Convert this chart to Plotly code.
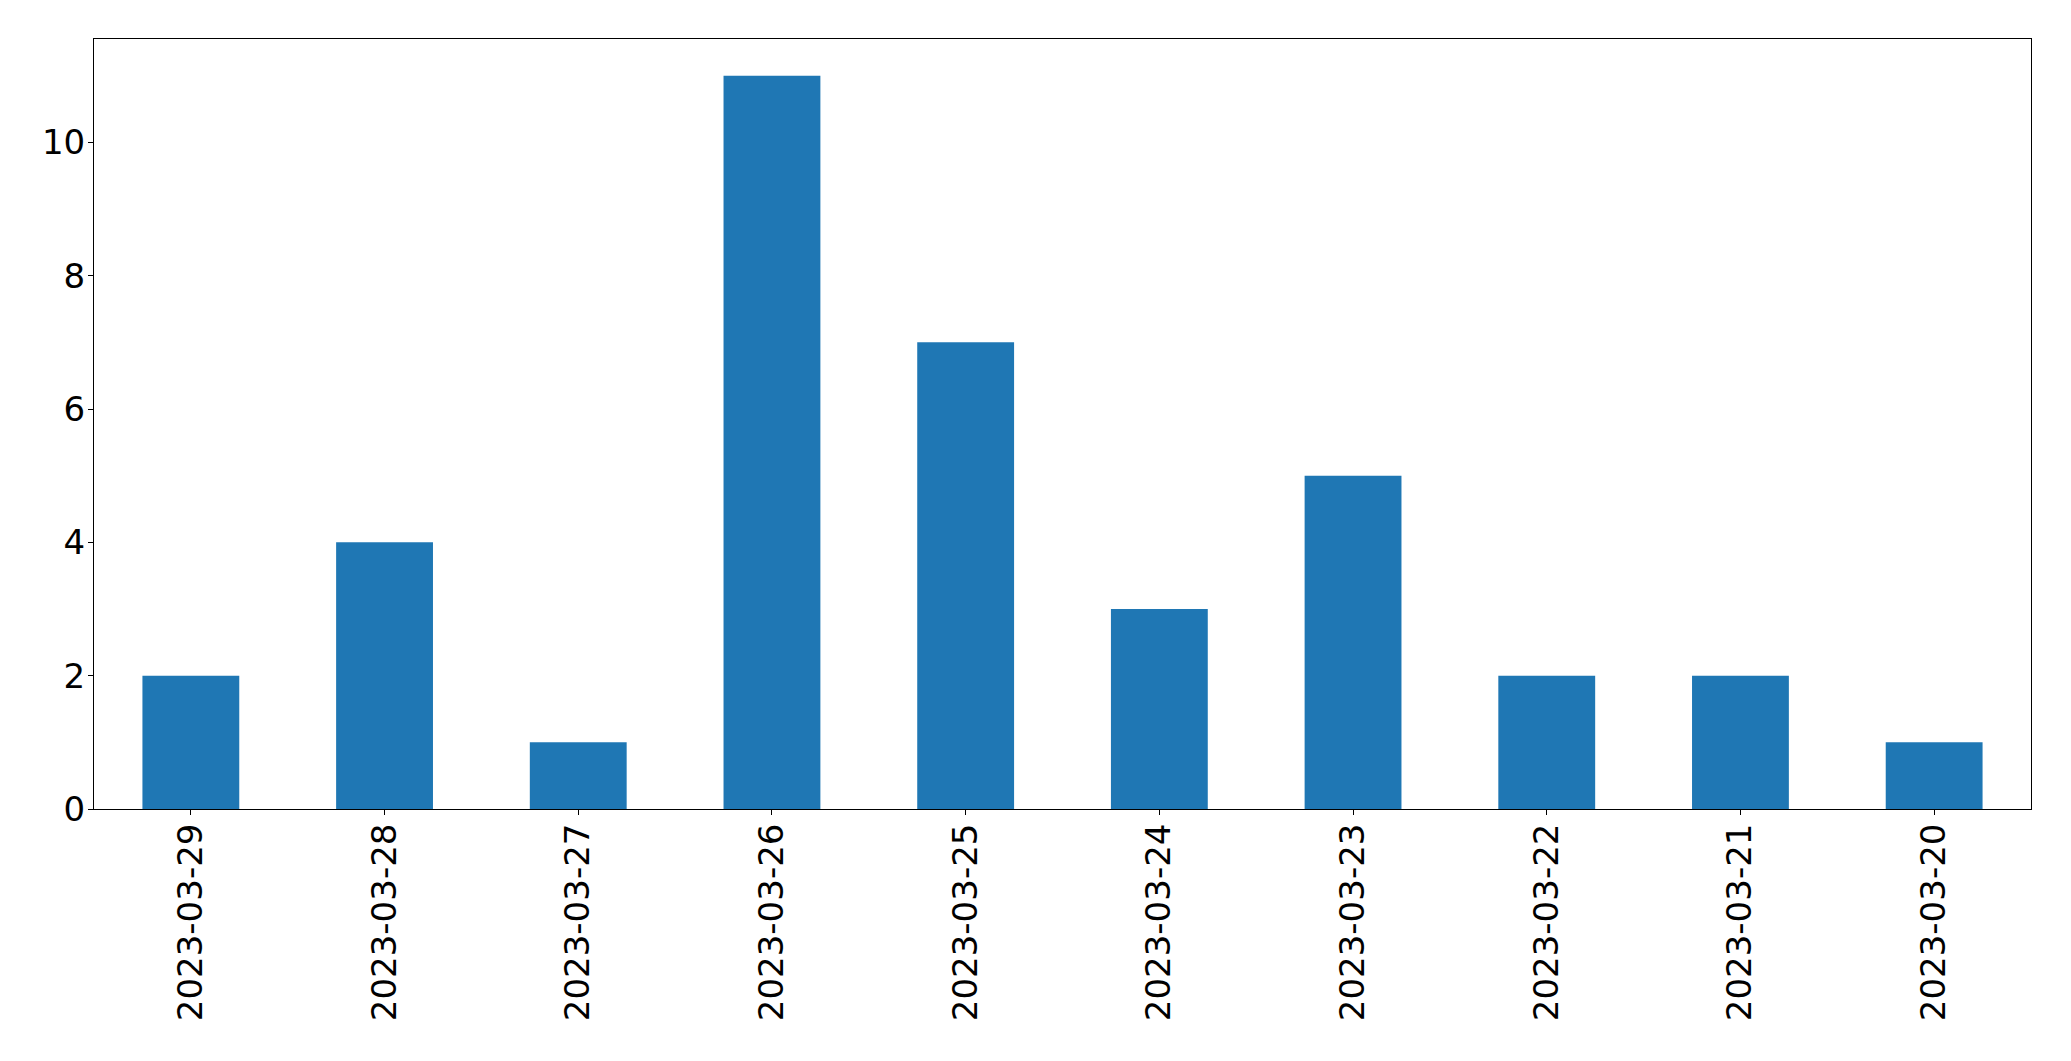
import plotly.graph_objects as go

dates = ["2023-03-29", "2023-03-28", "2023-03-27", "2023-03-26", "2023-03-25",
         "2023-03-24", "2023-03-23", "2023-03-22", "2023-03-21", "2023-03-20"]
counts = [2, 4, 1, 11, 7, 3, 5, 2, 2, 1]
y_ticks = [0, 2, 4, 6, 8, 10]

fig = go.Figure(go.Bar(x=list(range(len(dates))), y=counts, width=0.5,
                       marker=dict(color="#1f77b4", line=dict(width=0))))

font = dict(family="DejaVu Sans", size=34, color="black")
# page body has an 8px default margin; compensate so plot area lands at (94,39)-(2031,809)
fig.update_layout(
    width=2055, height=1045,
    margin=dict(l=86, r=32, t=31, b=244, autoexpand=False),
    paper_bgcolor="white", plot_bgcolor="white",
    showlegend=False,
    font=font,
)
fig.update_xaxes(range=[-0.5, len(dates) - 0.5], tickmode="array",
                 tickvals=list(range(len(dates))), ticktext=dates,
                 tickangle=-90, ticks="outside", ticklen=5, tickwidth=1,
                 tickcolor="black", showline=True, linecolor="black",
                 linewidth=1, mirror=True, showgrid=False, zeroline=False,
                 tickfont=font, ticklabelstandoff=-5, automargin=False)
fig.update_yaxes(range=[0, 11.55], tickmode="array", tickvals=y_ticks,
                 ticks="outside", ticklen=5, tickwidth=1, tickcolor="black",
                 showline=True, linecolor="black", linewidth=1, mirror=True,
                 showgrid=False, zeroline=False, tickfont=font,
                 ticklabelstandoff=-4, automargin=False)

fig.write_html("out.html")
